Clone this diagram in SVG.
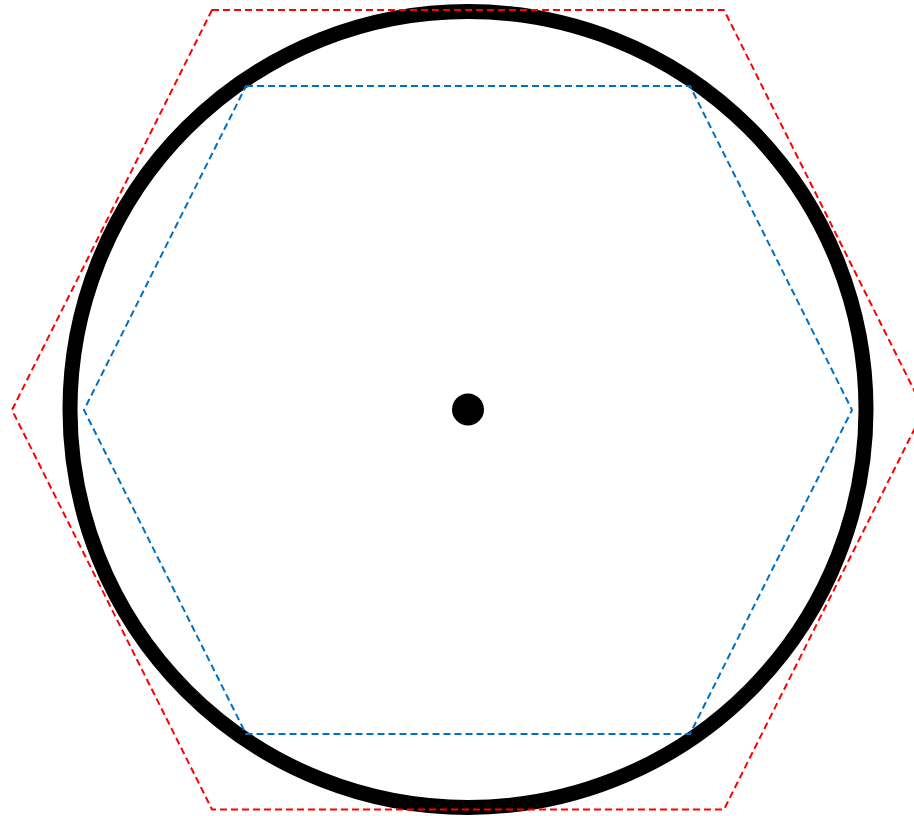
<svg xmlns="http://www.w3.org/2000/svg" width="914" height="816" viewBox="0 0 914 816">
<style>
.hex{fill:none;stroke-width:2;stroke-dasharray:7,4;stroke-linejoin:round}
.red{stroke:#ff0000}
.blue{stroke:#0070c0}
</style>
<rect width="914" height="816" fill="#ffffff"/>
<g id="circle"><circle cx="468" cy="409.5" r="398" fill="none" stroke="#000000" stroke-width="15"/></g>
<g id="center"><circle cx="468" cy="409.5" r="16" fill="#000000"/></g>
<g id="inner-hexagon"><polygon class="hex blue" points="246,86 690,86 852,410 690,734 246,734 84,410"/></g>
<g id="outer-hexagon"><polygon class="hex red" points="212,10 724,10 924,410 724,809.5 212,809.5 12,410"/></g>
</svg>
